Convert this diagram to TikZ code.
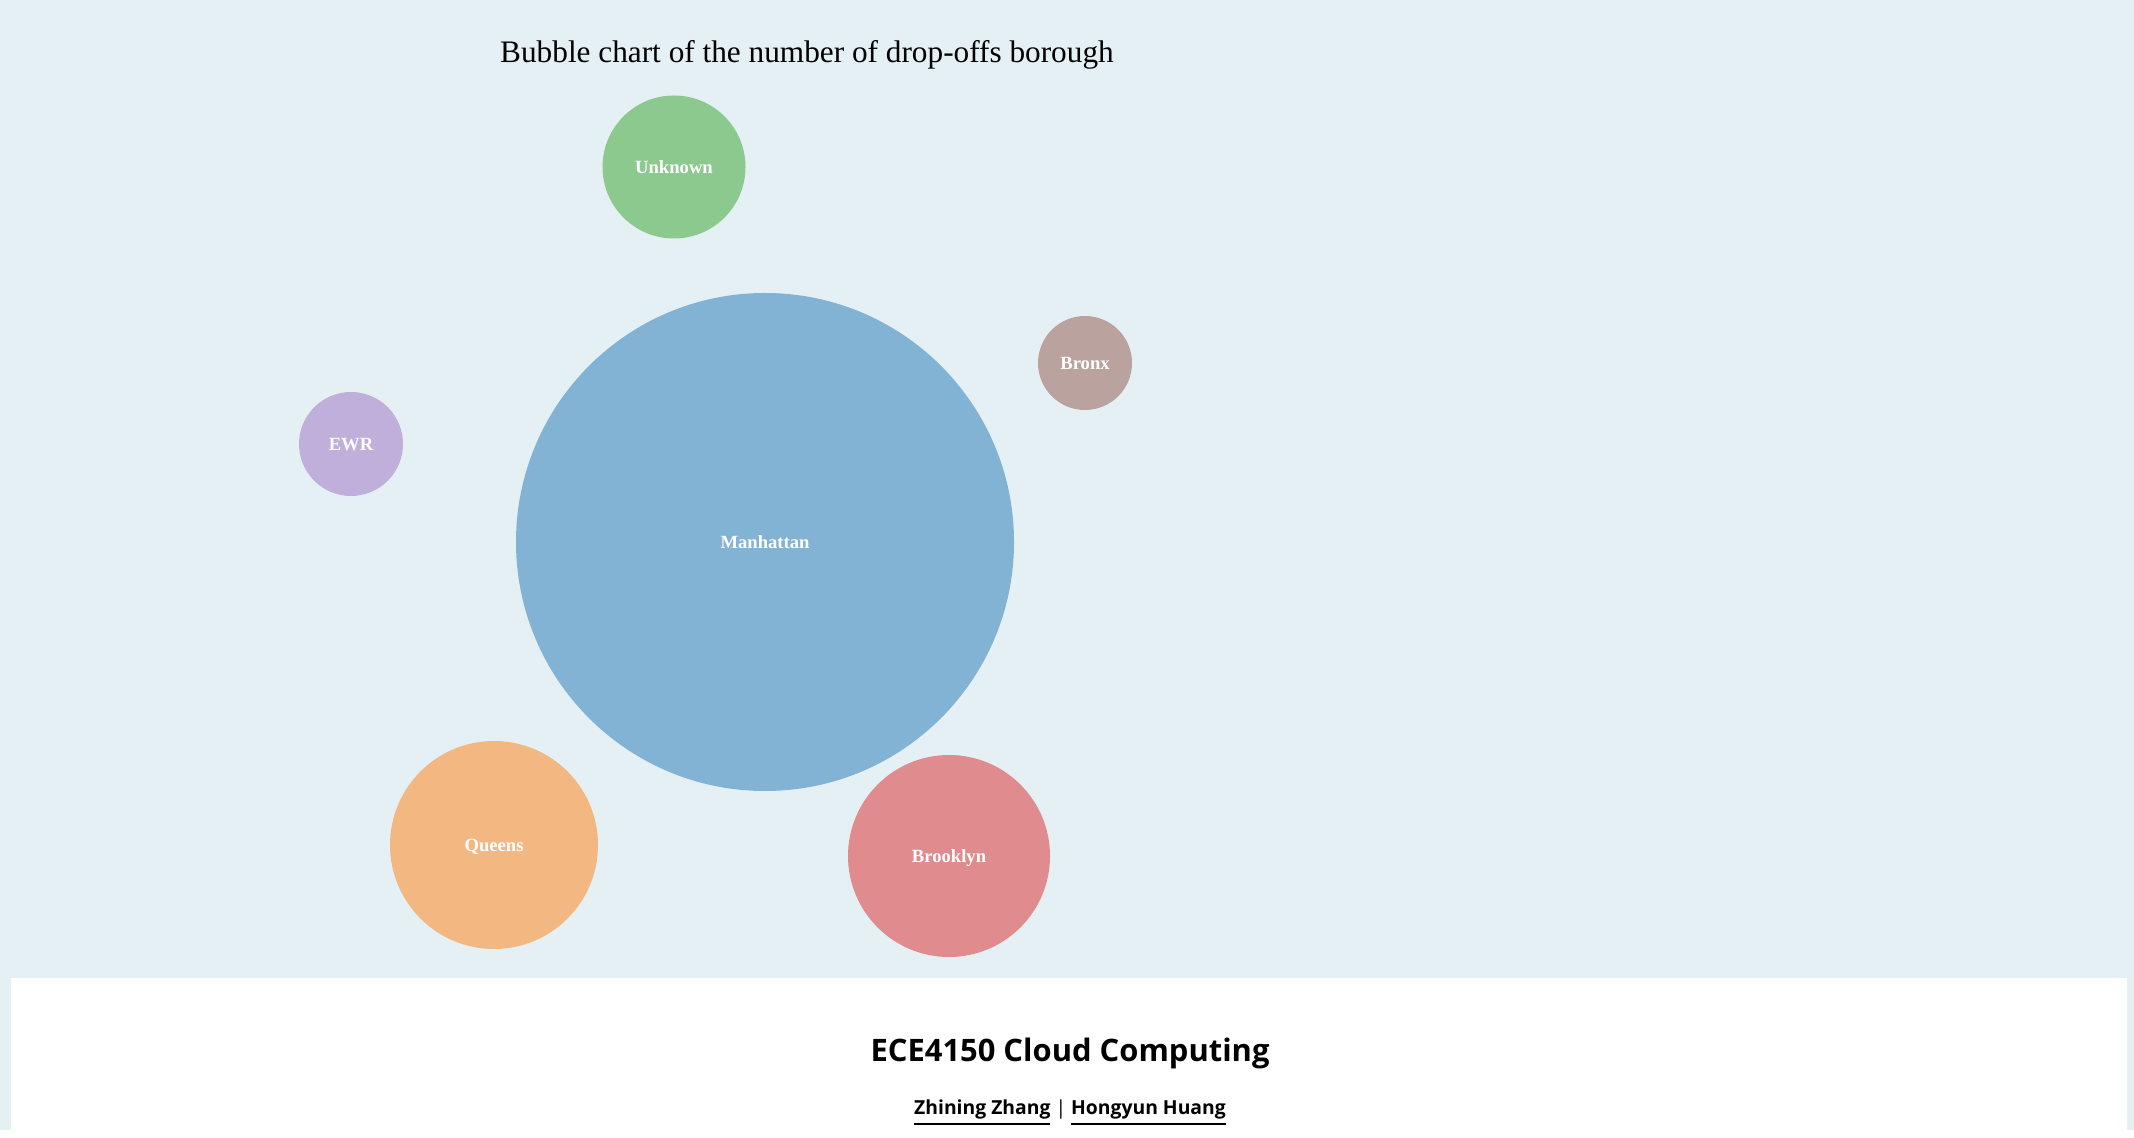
\documentclass[tikz,border=0pt]{standalone}
\usepackage{fontspec}
\setmainfont{Liberation Serif}
\newfontfamily\uifont{Open Sans}
\definecolor{bgblue}{HTML}{E5F0F4}
\definecolor{manc}{HTML}{82B3D4}
\definecolor{unkc}{HTML}{8BC98F}
\definecolor{brxc}{HTML}{BAA29F}
\definecolor{ewrc}{HTML}{C0AEDB}
\definecolor{quec}{HTML}{F3B882}
\definecolor{broc}{HTML}{E08B8D}
\begin{document}
\begin{tikzpicture}
\def\lbl{\bfseries\fontsize{5.3}{6}\selectfont};%bubble labels
\fill[bgblue] (0,0) rectangle (21.34,-11.30);
\fill[white] (0.11,-9.78) rectangle (21.27,-11.30);
\node (title) at (8.07,-0.55) {\fontsize{8.9}{10}\selectfont Bubble chart of the number of drop-offs borough};
\foreach\x/\y/\r/\c/\t in {7.65/-5.42/2.49/manc/Manhattan,6.74/-1.67/0.715/unkc/Unknown,10.85/-3.63/0.47/brxc/Bronx,3.51/-4.44/0.52/ewrc/EWR,4.94/-8.45/1.04/quec/Queens,9.49/-8.56/1.01/broc/Brooklyn} {
  \node[circle,fill=\c,inner sep=0pt,minimum size=2*\r cm,text=white,font=\lbl,text depth=0pt] (\t) at (\x,\y) {\t};
}
\node (course) at (10.70,-10.53) {\uifont\bfseries\fontsize{8.8}{10}\selectfont ECE4150 Cloud Computing};
\node (authors) at (10.70,-11.13) {\uifont\bfseries\fontsize{5.5}{7}\selectfont \underline{Zhining Zhang} {\mdseries|} \underline{Hongyun Huang}};
\end{tikzpicture}
\end{document}
